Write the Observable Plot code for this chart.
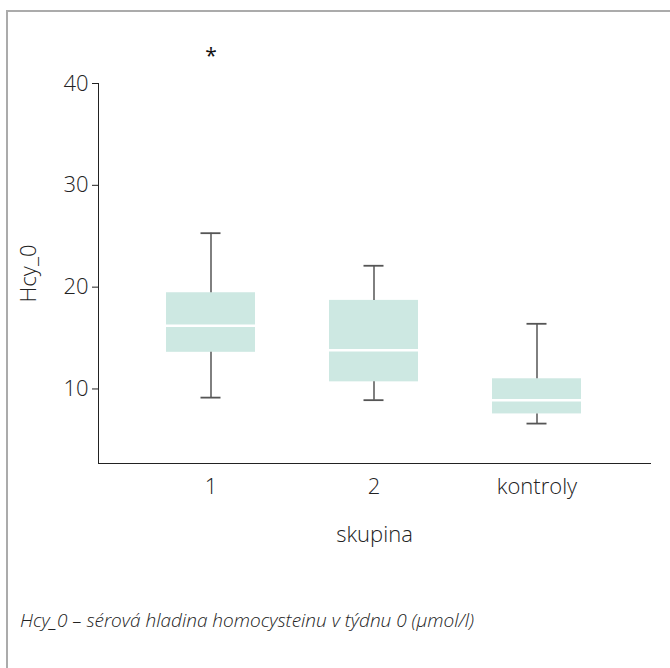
<!DOCTYPE html>
<html>
<head>
<meta charset="utf-8">
<script src="https://cdn.jsdelivr.net/npm/d3@7"></script>
<script src="https://cdn.jsdelivr.net/npm/@observablehq/plot@0.6"></script>
<style>
  html, body { margin: 0; padding: 0; background: #fff; }
  body { width: 670px; height: 668px; overflow: hidden; font-family: "Open Sans", sans-serif; }
  #frame {
    position: absolute; left: 6px; top: 10px; width: 664px; height: 658px;
    border-top: 2px solid #ababab; border-left: 2px solid #ababab;
  }
  #chart svg { display: block; }
  #caption {
    position: absolute; left: 12px; top: 595px;
    font-style: italic; font-size: 19px; color: #222; font-weight: 300;
    white-space: nowrap;
  }
</style>
</head>
<body>
<div id="frame">
  <div id="chart"></div>
  <div id="caption">Hcy_0 – sérová hladina homocysteinu v týdnu 0 (µmol/l)</div>
</div>
<script>
const groups = ["1", "2", "kontroly"];
const q1 = [13.6, 10.7, 7.55];
const median = [16.2, 13.8, 8.9];
const q3 = [19.45, 18.7, 11.0];
const whiskerLow = [9.15, 8.9, 6.6];
const whiskerHigh = [25.3, 22.1, 16.4];
const outlierGroups = ["1"];
const outlierValues = [43.0];
const yTicks = [10, 20, 30, 40];

const stats = groups.map((g, i) => ({
  group: g, q1: q1[i], median: median[i], q3: q3[i], lo: whiskerLow[i], hi: whiskerHigh[i]
}));
const outliers = outlierGroups.map((g, i) => ({group: g, value: outlierValues[i]}));

const chart = Plot.plot({
  width: 662,
  height: 560,
  marginLeft: 90,
  marginRight: 20,
  marginTop: 71,
  marginBottom: 109,
  style: {fontFamily: "'Open Sans', sans-serif", fontSize: "22px", color: "#222", fontWeight: 300},
  x: {
    domain: groups, paddingInner: 0.4537, paddingOuter: 0.41,
    tickSize: 0, tickPadding: 15, line: true,
    label: "skupina", labelAnchor: "center", labelOffset: 78, labelArrow: "none"
  },
  y: {
    domain: [2.68, 40], ticks: yTicks, tickSize: 6, tickPadding: 4, line: true,
    label: "Hcy_0", labelAnchor: "center", labelOffset: 78, labelArrow: "none"
  },
  marks: [
    Plot.barY(stats, {x: "group", y1: "q1", y2: "q3", fill: "#cde8e2"}),
    Plot.tickY(stats, {x: "group", y: "median", stroke: "#fff", strokeWidth: 2.5}),
    Plot.ruleX(stats, {x: "group", y1: "q3", y2: "hi", stroke: "#2b2b2b", strokeWidth: 1.2}),
    Plot.ruleX(stats, {x: "group", y1: "q1", y2: "lo", stroke: "#2b2b2b", strokeWidth: 1.2}),
    Plot.tickY(stats, {x: "group", y: "hi", stroke: "#555", strokeWidth: 1.8, insetLeft: 34.5, insetRight: 34.5}),
    Plot.tickY(stats, {x: "group", y: "lo", stroke: "#555", strokeWidth: 1.8, insetLeft: 34.5, insetRight: 34.5}),
    Plot.text(outliers, {x: "group", y: "value", text: () => "*", fontSize: 21, fill: "#111", fontWeight: 400, dy: 3})
  ]
});
document.getElementById("chart").appendChild(chart);
</script>
</body>
</html>
